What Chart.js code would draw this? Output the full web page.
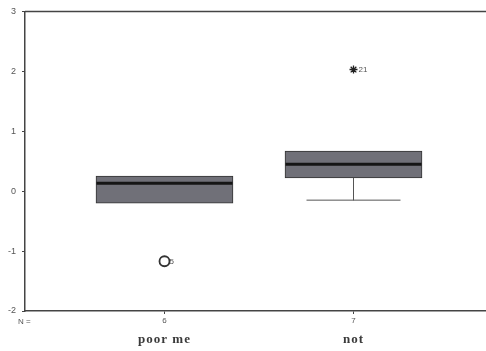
<!DOCTYPE html>
<html>
<head>
<meta charset="utf-8">
<script src="https://cdn.jsdelivr.net/npm/chart.js@4/dist/chart.umd.min.js"></script>
<style>
  html, body { margin: 0; padding: 0; background: #fff; }
  #wrap { width: 486px; height: 351px; }
</style>
</head>
<body>
<div id="wrap"><canvas id="boxChart"></canvas></div>
<script>
// Data
const groups = ['poor me', 'not'];
const counts = ['6', '7'];
const q1 = [-0.2, 0.22];
const median = [0.13, 0.45];
const q3 = [0.25, 0.67];
const whiskerLow = [-0.2, -0.15];
const whiskerHigh = [0.25, 0.67];
const outlierGroup = [0];
const outlierValue = [-1.17];
const outlierLabel = ['5'];
const extremeGroup = [1];
const extremeValue = [2.03];
const extremeLabel = ['21'];
const yTicks = [-2, -1, 0, 1, 2, 3];

const axisColor = '#444';
const tickFont = { family: 'Liberation Sans', size: 9 };

// Boxes as floating bars
const datasets = [{
    type: 'bar',
    data: groups.map((g, i) => ({ x: i, y: [q1[i], q3[i]] })),
    backgroundColor: '#707078',
    borderColor: '#333',
    borderWidth: 1,
    borderSkipped: false,
    barThickness: 137,
    order: 3
}];

// Medians
datasets.push({
    type: 'line',
    data: groups.map((g, i) => ({ x: i, y: median[i] })),
    showLine: false,
    pointStyle: 'line',
    pointRadius: 68,
    pointBorderWidth: 3,
    pointBorderColor: '#151515',
    order: 1
});

// Whiskers (only where they stick out of the box)
groups.forEach((g, i) => {
    if (whiskerLow[i] < q1[i]) {
        datasets.push({
            type: 'line',
            data: [{ x: i, y: q1[i] }, { x: i, y: whiskerLow[i] }],
            borderColor: '#555', borderWidth: 1, pointRadius: 0, order: 2
        });
        datasets.push({
            type: 'line',
            data: [{ x: i, y: whiskerLow[i] }],
            showLine: false, pointStyle: 'line', pointRadius: 47,
            pointBorderWidth: 1, pointBorderColor: '#555', order: 2
        });
    }
    if (whiskerHigh[i] > q3[i]) {
        datasets.push({
            type: 'line',
            data: [{ x: i, y: q3[i] }, { x: i, y: whiskerHigh[i] }],
            borderColor: '#555', borderWidth: 1, pointRadius: 0, order: 2
        });
        datasets.push({
            type: 'line',
            data: [{ x: i, y: whiskerHigh[i] }],
            showLine: false, pointStyle: 'line', pointRadius: 47,
            pointBorderWidth: 1, pointBorderColor: '#555', order: 2
        });
    }
});

// Outliers (circle) and extremes (star)
datasets.push({
    type: 'line',
    data: outlierGroup.map((g, i) => ({ x: g, y: outlierValue[i] })),
    showLine: false,
    pointStyle: 'circle',
    pointRadius: 5,
    pointBorderWidth: 1.8,
    pointBorderColor: '#333',
    pointBackgroundColor: '#fff',
    order: 0
});
datasets.push({
    type: 'line',
    data: extremeGroup.map((g, i) => ({ x: g, y: extremeValue[i] })),
    showLine: false,
    pointStyle: 'star',
    pointRadius: 4,
    pointBorderWidth: 1.3,
    pointBorderColor: '#222',
    order: 0
});

// Frame line on top, point labels, N counts and group names
const extras = {
    id: 'extras',
    afterDatasetsDraw(chart) {
        const { ctx, chartArea, scales } = chart;
        const x = scales.x, y = scales.y;
        ctx.save();
        ctx.strokeStyle = axisColor;
        ctx.lineWidth = 1.5;
        ctx.beginPath();
        ctx.moveTo(chartArea.left, chartArea.top);
        ctx.lineTo(chartArea.right, chartArea.top);
        ctx.stroke();

        ctx.fillStyle = '#555';
        ctx.font = '8px "Liberation Sans"';
        ctx.textBaseline = 'middle';
        ctx.textAlign = 'left';
        outlierGroup.forEach((g, i) => {
            ctx.fillText(outlierLabel[i], x.getPixelForValue(g) + 5, y.getPixelForValue(outlierValue[i]) + 1);
        });
        extremeGroup.forEach((g, i) => {
            ctx.fillText(extremeLabel[i], x.getPixelForValue(g) + 5, y.getPixelForValue(extremeValue[i]));
        });

        ctx.fillText('N =', chartArea.left - 7, chartArea.bottom + 11);

        ctx.fillStyle = '#3a3a3a';
        ctx.font = 'bold 13px "Liberation Serif"';
        ctx.letterSpacing = '1px';
        ctx.textAlign = 'center';
        groups.forEach((g, i) => {
            ctx.fillText(g, x.getPixelForValue(i), chartArea.bottom + 29);
        });
        ctx.restore();
    }
};

new Chart(document.getElementById('boxChart'), {
    type: 'bar',
    data: { datasets: datasets },
    options: {
        responsive: true,
        maintainAspectRatio: false,
        animation: false,
        layout: { autoPadding: false, padding: { top: 11, right: 0, left: 0, bottom: 0 } },
        plugins: { legend: { display: false }, tooltip: { enabled: false } },
        scales: {
            x: {
                type: 'linear',
                min: -0.738,
                max: 1.701,
                offset: false,
                afterBuildTicks: axis => { axis.ticks = groups.map((g, i) => ({ value: i })); },
                afterFit: axis => { axis.height = 40; },
                ticks: {
                    font: { family: 'Liberation Sans', size: 8 },
                    color: '#555',
                    padding: 2,
                    callback: v => counts[v]
                },
                grid: { offset: false, drawOnChartArea: false, drawTicks: true, tickLength: 3, color: axisColor },
                border: { color: axisColor, width: 1.5 }
            },
            y: {
                min: -2,
                max: 3,
                afterBuildTicks: axis => { axis.ticks = yTicks.map(v => ({ value: v })); },
                afterFit: axis => { axis.width = 25; },
                ticks: { font: tickFont, color: '#555', padding: 6 },
                grid: { drawOnChartArea: false, drawTicks: true, tickLength: 3, color: axisColor },
                border: { color: axisColor, width: 1.5 }
            }
        }
    },
    plugins: [extras]
});
</script>
</body>
</html>
